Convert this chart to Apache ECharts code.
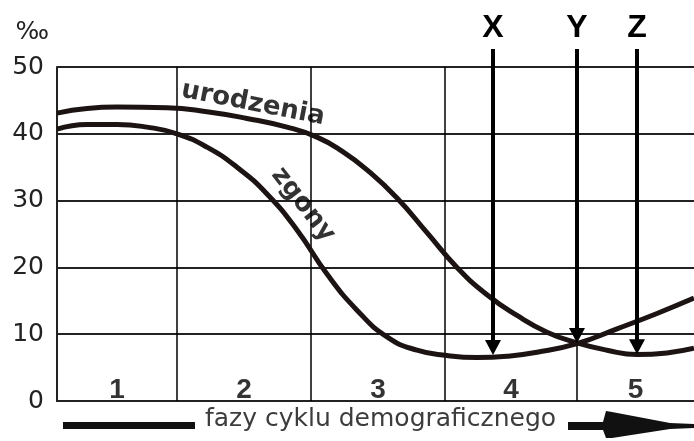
<!DOCTYPE html>
<html>
<head>
<meta charset="utf-8">
<script src="https://cdn.jsdelivr.net/npm/echarts@6/dist/echarts.min.js"></script>
<style>
html, body { margin: 0; padding: 0; background: #fff; }
#chart { width: 694px; height: 441px; }
</style>
</head>
<body>
<div id="chart"></div>
<script>
// czas w umownych jednostkach (0 = poczatek fazy 1)
var birthT = [0, 30, 60, 110, 150, 190, 230, 260, 285, 310, 340, 370, 400, 430, 460, 490, 520, 550, 580, 610, 637];
var birthRate = [43.1, 43.8, 44.0, 43.9, 43.3, 42.3, 41.0, 39.5, 37.4, 34.6, 30.4, 25.2, 20.0, 15.9, 12.8, 10.3, 8.7, 7.6, 6.95, 7.2, 7.9];

var deathT = [0, 30, 60, 90, 120, 150, 180, 210, 240, 270, 300, 330, 360, 390, 420, 450, 480, 520, 560, 600, 637];
var deathRate = [40.7, 41.4, 41.4, 41.0, 40.0, 38.0, 35.0, 31.0, 25.6, 19.0, 13.6, 9.6, 7.6, 6.8, 6.5, 6.7, 7.3, 8.6, 10.8, 13.1, 15.4];

// granice faz cyklu demograficznego
var phaseEdges = [0, 120, 254, 388, 520, 637];
var phaseNames = ['1', '2', '3', '4', '5'];

// strzalki X, Y, Z
var markerNames = ['X', 'Y', 'Z'];
var markerT = [436, 520, 580];
var markerTip = [6.9, 8.7, 7.0];
var markerTop = 52.7;

var yMin = 0, yMax = 50, yStep = 10;

function zip(a, b) {
    return a.map(function (v, i) { return [v, b[i]]; });
}

var phaseMid = phaseNames.map(function (n, i) {
    return [(phaseEdges[i] + phaseEdges[i + 1]) / 2, 0, n];
});

var markerData = markerNames.map(function (n, i) {
    return [markerT[i], markerTop, markerTip[i]];
});

var curveColor = '#1c1412';

var chart = echarts.init(document.getElementById('chart'));
chart.setOption({
    animation: false,
    grid: { left: 57, right: 0, top: 67, bottom: 40 },
    xAxis: {
        type: 'value',
        min: phaseEdges[0],
        max: phaseEdges[phaseEdges.length - 1],
        axisLine: { show: true, lineStyle: { color: '#222', width: 2 } },
        axisTick: { show: false },
        axisLabel: { show: false },
        splitLine: { show: false }
    },
    yAxis: {
        type: 'value',
        min: yMin,
        max: yMax,
        interval: yStep,
        name: '‰',
        nameLocation: 'end',
        nameGap: 22,
        nameTextStyle: {
            fontFamily: 'DejaVu Sans', fontSize: 25, color: '#222',
            align: 'right', padding: [0, 8, 0, 0]
        },
        axisLine: { show: true, lineStyle: { color: '#222', width: 2 } },
        axisTick: { show: false },
        axisLabel: { fontFamily: 'DejaVu Sans', fontSize: 25, color: '#222', margin: 13 },
        splitLine: { show: true, lineStyle: { color: '#222', width: 2 } }
    },
    series: [
        {
            name: 'urodzenia',
            type: 'line',
            data: zip(birthT, birthRate),
            smooth: 0.5,
            symbol: 'none',
            lineStyle: { color: curveColor, width: 5 },
            z: 5,
            markLine: {
                silent: true,
                symbol: 'none',
                label: { show: false },
                lineStyle: { color: '#000', width: 1.5, type: 'solid' },
                data: phaseEdges.slice(1, phaseEdges.length - 1).map(function (v) { return { xAxis: v }; })
            }
        },
        {
            name: 'zgony',
            type: 'line',
            data: zip(deathT, deathRate),
            smooth: 0.5,
            symbol: 'none',
            lineStyle: { color: curveColor, width: 5 },
            z: 5
        },
        {
            // podpisy krzywych
            type: 'scatter',
            symbolSize: 0,
            silent: true,
            z: 6,
            label: {
                show: true,
                position: 'inside',
                formatter: '{b}',
                color: '#000',
                fontFamily: 'DejaVu Sans',
                fontWeight: 'bold',
                fontSize: 26
            },
            data: [
                { name: 'urodzenia', value: [196, 44.5], label: { rotate: -11 } },
                { name: 'zgony', value: [246, 29.4], label: { rotate: -52 } }
            ]
        },
        {
            // numery faz
            type: 'scatter',
            symbolSize: 0,
            silent: true,
            z: 6,
            label: {
                show: true,
                position: 'top',
                distance: 0,
                offset: [0, 3],
                formatter: function (p) { return p.value[2]; },
                color: '#000',
                fontFamily: 'Liberation Sans',
                fontWeight: 'bold',
                fontSize: 28
            },
            data: phaseMid
        },
        {
            // strzalki X, Y, Z
            type: 'custom',
            clip: false,
            silent: true,
            z: 10,
            encode: { x: 0, y: [1, 2] },
            data: markerData,
            renderItem: function (params, api) {
                var top = api.coord([api.value(0), api.value(1)]);
                var tip = api.coord([api.value(0), api.value(2)]);
                var x = top[0];
                return {
                    type: 'group',
                    children: [
                        {
                            type: 'line',
                            shape: { x1: x, y1: top[1], x2: x, y2: tip[1] - 12 },
                            style: { stroke: '#000', lineWidth: 4 }
                        },
                        {
                            type: 'polygon',
                            shape: { points: [[x - 8, tip[1] - 15], [x + 8, tip[1] - 15], [x, tip[1]]] },
                            style: { fill: '#000' }
                        },
                        {
                            type: 'text',
                            x: x,
                            y: top[1] - 21,
                            style: {
                                text: markerNames[params.dataIndex],
                                fontFamily: 'Liberation Sans',
                                fontWeight: 'bold',
                                fontSize: 32,
                                fill: '#000',
                                align: 'center',
                                verticalAlign: 'middle'
                            }
                        }
                    ]
                };
            }
        }
    ],
    graphic: [
        { type: 'rect', shape: { x: 63, y: 422, width: 132, height: 7 }, style: { fill: '#111' } },
        {
            type: 'text', x: 205, y: 419,
            style: {
                text: 'fazy cyklu demograficznego',
                fontFamily: 'DejaVu Sans', fontSize: 25, fill: '#3c3c3c',
                verticalAlign: 'middle'
            }
        },
        {
            type: 'polygon',
            shape: {
                points: [[568, 422], [603, 422], [606, 411], [612, 412], [670, 423], [694, 424],
                         [694, 428], [670, 429], [612, 438], [606, 438], [603, 430], [568, 430]]
            },
            style: { fill: '#111' }
        }
    ]
});
</script>
</body>
</html>
